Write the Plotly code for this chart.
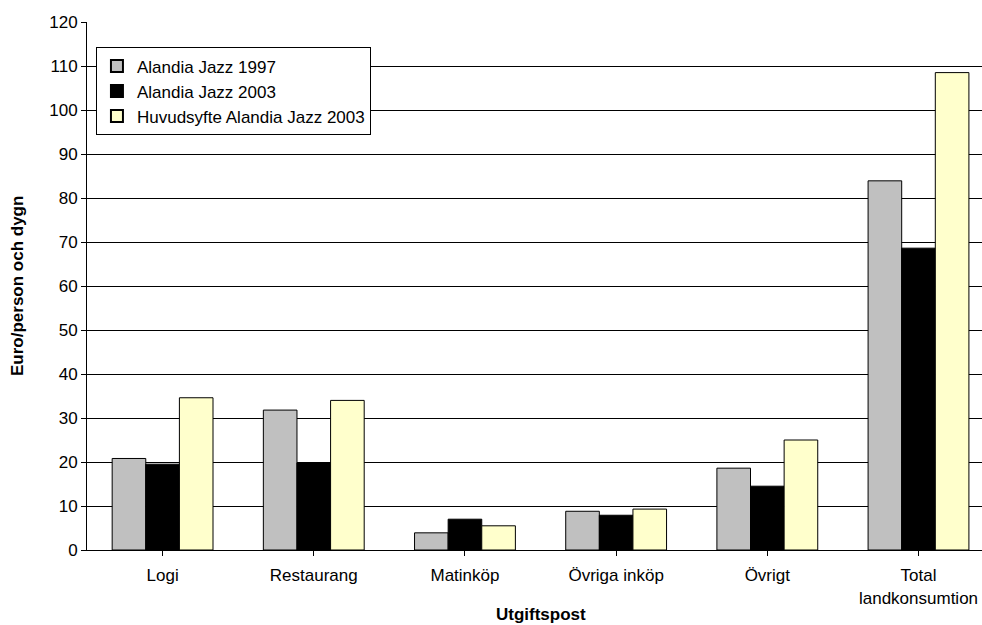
import plotly.graph_objects as go

categories = ["Logi", "Restaurang", "Matinköp", "Övriga inköp", "Övrigt", "Total<br>landkonsumtion"]
series_names = ["Alandia Jazz 1997", "Alandia Jazz 2003", "Huvudsyfte Alandia Jazz 2003"]
values_1997 = [20.8, 31.8, 3.9, 8.8, 18.6, 83.9]
values_2003 = [19.5, 19.8, 7.0, 7.9, 14.5, 68.6]
values_huvud = [34.6, 34.0, 5.5, 9.3, 25.0, 108.5]
colors = ["#C0C0C0", "#000000", "#FFFFCC"]
y_ticks = list(range(0, 121, 10))

fig = go.Figure()
for name, vals, col in zip(series_names, [values_1997, values_2003, values_huvud], colors):
    fig.add_trace(go.Bar(
        x=list(range(len(categories))), y=vals, name=name,
        marker=dict(color=col, line=dict(color="#000000", width=1)),
    ))

font = "Liberation Sans, Arial, sans-serif"
fig.update_layout(
    width=982, height=625,
    margin=dict(l=87, r=0, t=22, b=75),
    plot_bgcolor="white", paper_bgcolor="white",
    barmode="group", bargap=0.333, bargroupgap=0,
    font=dict(family=font, size=16, color="#000000"),
    showlegend=True,
    legend=dict(
        x=0.010, y=0.952, xanchor="left", yanchor="top",
        bgcolor="white", bordercolor="#000000", borderwidth=1,
        font=dict(family=font, size=17, color="#000000"),
        tracegroupgap=0, itemsizing="constant", itemwidth=30,
    ),
    xaxis=dict(
        tickmode="array", tickvals=list(range(len(categories))), ticktext=categories,
        range=[-0.5, 5.42], showgrid=False, zeroline=False,
        showline=True, linecolor="#000000", linewidth=1,
        ticks="outside", ticklen=5, tickcolor="#000000", tickson="boundaries",
        ticklabelstandoff=5, ticklabeloverflow="allow",
        tickfont=dict(family=font, size=17, color="#000000"),
    ),
    yaxis=dict(
        range=[0, 120], tickmode="array", tickvals=y_ticks,
        showgrid=True, gridcolor="#000000", gridwidth=1, zeroline=False,
        showline=True, linecolor="#000000", linewidth=1,
        ticks="outside", ticklen=5, tickcolor="#000000",
        tickfont=dict(family=font, size=17, color="#000000"),
    ),
    annotations=[
        dict(text="<b>Euro/person och dygn</b>", xref="paper", yref="paper",
             x=-0.0782, y=0.5, xanchor="center", yanchor="middle", textangle=-90,
             showarrow=False, font=dict(family=font, size=17, color="#000000")),
        dict(text="<b>Utgiftspost</b>", xref="paper", yref="paper",
             x=0.507, y=-0.122, xanchor="center", yanchor="middle",
             showarrow=False, font=dict(family=font, size=17, color="#000000")),
    ],
)

fig.write_html(
    "out.html",
    config={"displayModeBar": False},
    post_script="document.body.style.margin='0';document.body.style.overflow='hidden';",
)
